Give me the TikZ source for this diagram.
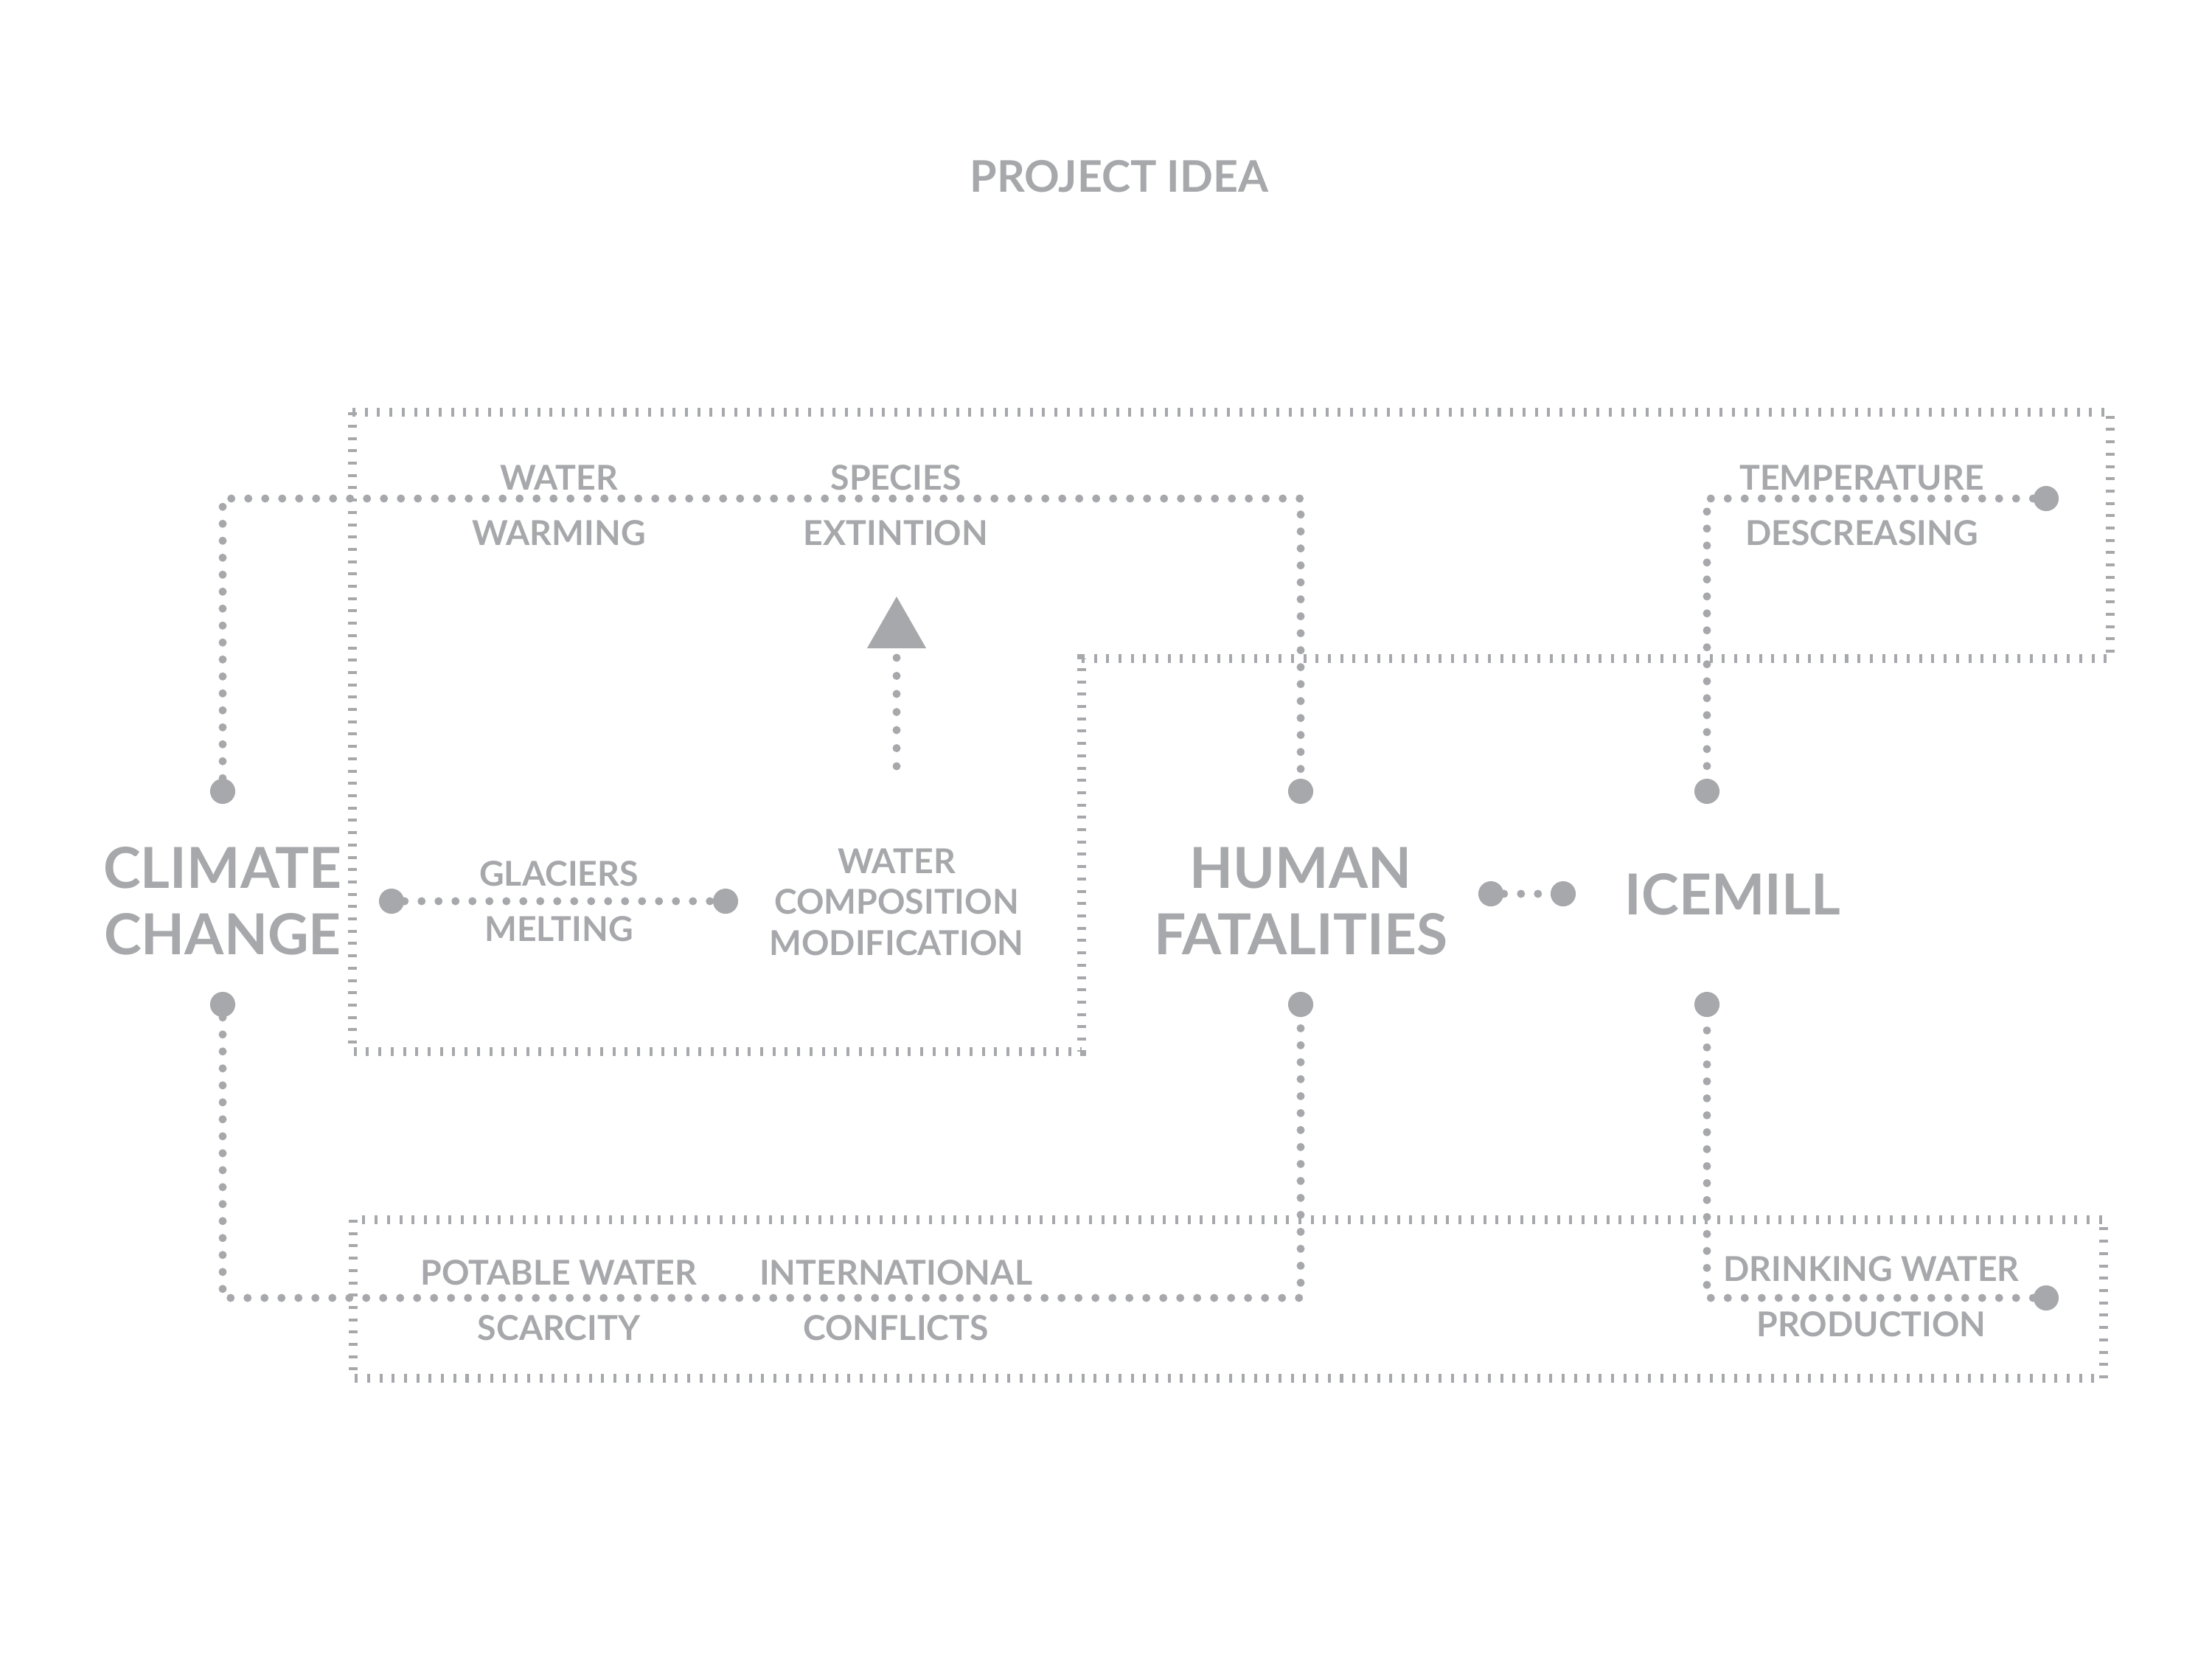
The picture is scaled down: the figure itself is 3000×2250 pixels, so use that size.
\documentclass[tikz,border=0pt]{standalone}
\usepackage{fontspec}
\setmainfont{Lato}
\usetikzlibrary{arrows.meta}
\definecolor{ideagray}{HTML}{A7A8AB}
\tikzset{
	smalltext/.style={text=ideagray,align=center,anchor=base,font=\fontsize{13.2pt}{21.3pt}\selectfont\bfseries},
	compotext/.style={text=ideagray,align=center,anchor=base,font=\fontsize{13.2pt}{15.65pt}\selectfont\bfseries},
	bigtext/.style={text=ideagray,align=center,anchor=base,font=\fontsize{21.8pt}{25.6pt}\selectfont\bfseries},
	titletext/.style={text=ideagray,anchor=base,font=\fontsize{16.8pt}{20pt}\selectfont\bfseries},
	framedash/.style={draw=ideagray,line width=3.4pt,dash pattern=on 1.14pt off 3.61pt},
	dotline/.style={draw=ideagray,line width=3.13pt,line cap=round,dash pattern=on 0pt off 6.54pt},
	enddot/.style={circle,fill=ideagray,minimum size=9.7pt,inner sep=0pt}
}
\begin{document}
\begin{tikzpicture}[x=0.01cm,y=-0.01cm]
				\fill[white](0,0)rectangle(3000,2250);
				\useasboundingbox(0,0)rectangle(3000,2250);
				\draw[framedash](478,559)--(2862,559)--(2862,893)--(1467,893)--(1467,1426)--(478,1426)--cycle;
				\draw[framedash](479,1654)rectangle(2853,1869);
				\node[titletext](projidea)at(1518,260){PROJECT IDEA};
				\node[enddot](cctop)at(302,1073){};
				\node[enddot](ccbot)at(302,1362){};
				\node[enddot](hftop)at(1764,1073){};
				\node[enddot](hfbot)at(1764,1362){};
				\node[enddot](imtop)at(2315,1073){};
				\node[enddot](imbot)at(2315,1362){};
				\node[enddot](tdend)at(2775,676){};
				\node[enddot](dwend)at(2775,1760){};
				\node[enddot](gmleft)at(531,1222){};
				\node[enddot](gmright)at(984,1222){};
				\node[enddot](hfright)at(2022,1212){};
				\node[enddot](imleft)at(2120,1212){};
				\coordinate(upline)at(0,676);
				\coordinate(lowline)at(0,1760);
				\coordinate(arrfoot)at(1216,1039);
				\coordinate(arrtip)at(1216,809);
				\draw[dotline](cctop)|-(upline-|hftop)--(hftop);
				\draw[dotline](ccbot)|-(lowline-|hfbot)--(hfbot);
				\draw[dotline](tdend)-|(imtop);
				\draw[dotline](dwend)-|(imbot);
				\draw[dotline](gmleft)--(gmright);
				\draw[dotline](hfright)--(imleft);
				\draw[dotline,dash pattern=on 0pt off 6.97pt,-{Triangle[length=19.9pt,width=22.8pt,line width=0pt]}](arrfoot)--(arrtip);
				\node[smalltext](warming)at(758,739){WATER\\WARMING};
				\node[smalltext](species)at(1215,739){SPECIES\\EXTINTION};
				\node[smalltext](tempdec)at(2525,739){TEMPERATURE\\DESCREASING};
				\node[smalltext](glaciers)at(758,1276){GLACIERS\\MELTING};
				\node[compotext](watercomp)at(1216,1295){WATER\\COMPOSITION\\MODIFICATION};
				\node[bigtext](climate)at(302,1294){CLIMATE\\CHANGE};
				\node[bigtext](human)at(1764,1294){HUMAN\\FATALITIES};
				\node[bigtext](icemill)at(2350,1240){ICEMILL};
				\node[smalltext](potable)at(758,1817){POTABLE WATER\\SCARCITY};
				\node[smalltext](conflicts)at(1215,1817){INTERNATIONAL\\CONFLICTS};
				\node[smalltext](drinking)at(2538,1812){DRINKING WATER\\PRODUCTION};
			\end{tikzpicture}
\end{document}
